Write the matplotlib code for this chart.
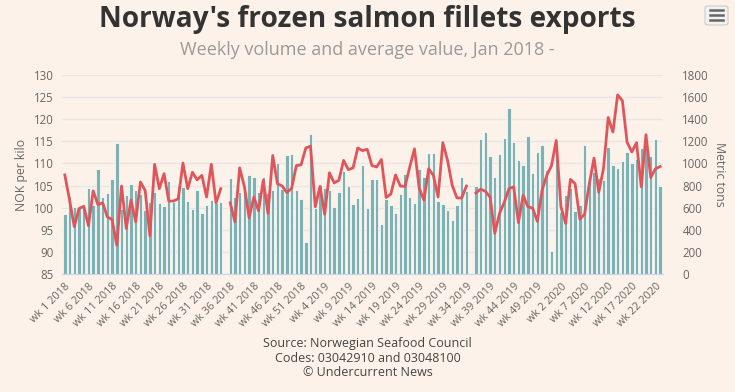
import numpy as np
import matplotlib
matplotlib.use("Agg")
import matplotlib.pyplot as plt
from matplotlib.patches import FancyBboxPatch

plt.rcParams['font.family'] = ['Open Sans', 'DejaVu Sans']

# weekly categories: wk 1 2018 .. wk 23 2020
years = [2018, 2019, 2020]
weeks_in_year = [52, 52, 23]
weeks = [f"wk {w} {y}" for y, n in zip(years, weeks_in_year) for w in range(1, n + 1)]

# metric tons (right axis), wk 35 missing both years
volume = [
    543, 705, 606, 600, 600, 777, 620, 948, 696, 732,
    861, 1182, 588, 714, 813, 759, 723, 579, 648, 741,
    642, 615, 840, 650, 795, 786, 660, 588, 759, 552,
    624, 666, 640, 651, np.nan, 867, 696, 741, 738, 894,
    876, 738, 876, 732, 760, 1002, 770, 1074, 1083, 759,
    678, 291, 1263, 597, 804, 780, 756, 606, 741, 933,
    795, 633, 687, 984, 597, 861, 861, 453, 681, 624,
    552, 723, 903, 696, 642, 948, 873, 1092, 1092, 660,
    633, 579, 489, 624, 876, 750, np.nan, 795, 1218, 1281,
    1065, 876, 1083, 1230, 1506, 1191, 1032, 984, 1245, 912,
    1101, 1164, 939, 210, 1038, 560, 714, 780, 570, 624,
    1164, 876, 921, 867, 850, 1146, 987, 960, 1020, 1101,
    1005, 1038, 1137, 1150, 1065, 1218, 795,
]

# NOK per kilo (left axis)
price = [
    107.4, 101.7, 95.7, 99.8, 100.3, 95.9, 103.8, 100.7, 101.1, 97.9,
    97.3, 91.5, 104.9, 95.3, 101.7, 96.8, 105.8, 103.9, 93.6, 109.8,
    104.3, 107.7, 101.5, 101.5, 102.0, 110.1, 104.3, 108.0, 106.3, 107.3,
    102.4, 109.8, 101.1, 104.3, np.nan, 101.1, 96.8, 109.0, 104.8, 97.7,
    102.4, 99.3, 106.2, 98.7, 111.8, 105.4, 104.9, 103.4, 104.4, 109.5,
    109.7, 113.5, 113.9, 100.2, 104.8, 98.5, 107.9, 105.6, 106.2, 110.7,
    108.6, 109.0, 113.5, 112.9, 113.2, 109.5, 109.2, 110.9, 102.3, 103.1,
    107.4, 104.9, 104.8, 109.2, 113.3, 104.4, 101.7, 108.8, 107.3, 102.4,
    114.7, 110.7, 105.0, 102.2, 102.2, 104.9, np.nan, 103.3, 104.2, 103.7,
    102.4, 94.2, 98.7, 101.2, 104.3, 104.7, 96.6, 102.8, 100.2, 99.9,
    96.9, 103.9, 107.3, 109.5, 115.2, 100.2, 96.4, 106.4, 105.4, 97.4,
    98.5, 105.4, 111.2, 103.5, 108.8, 120.4, 117.1, 125.5, 124.2, 114.8,
    112.6, 114.7, 104.7, 116.5, 106.8, 108.8, 109.3,
]

bg = '#fdf2e9'
bar_color = '#7fb1b3'
line_color = '#e0555a'
text_gray = '#666666'

fig = plt.figure(figsize=(7.35, 3.92), dpi=100)
fig.patch.set_facecolor(bg)

W, H = 735, 392
ax_bar = fig.add_axes([62 / W, (H - 274) / H, (663 - 62) / W, (274 - 75) / H])
ax_bar.set_facecolor(bg)
ax_line = ax_bar.twinx()

x = np.arange(len(weeks))
ax_bar.bar(x, volume, width=0.72, color=bar_color, edgecolor='white', linewidth=0.5, zorder=2)
ax_line.plot(x, price, color=line_color, linewidth=2, zorder=3, solid_joinstyle='round')

ax_bar.set_xlim(-0.6, len(weeks) - 0.4)
ax_bar.set_ylim(0, 1800)
ax_line.set_ylim(85, 130)

ax_bar.set_yticks(np.arange(0, 1801, 200))
ax_line.set_yticks(np.arange(85, 131, 5))
ax_bar.yaxis.tick_right()
ax_bar.yaxis.set_label_position('right')
ax_line.yaxis.tick_left()
ax_line.yaxis.set_label_position('left')

ax_bar.grid(axis='y', color='#e6e6e6', linewidth=1, zorder=0)
ax_bar.set_axisbelow(True)

tick_idx = x[::5]
ax_bar.set_xticks(tick_idx)
ax_bar.set_xticklabels([weeks[i] for i in tick_idx], rotation=45, ha='right',
                       rotation_mode='anchor', fontsize=7.8, color=text_gray)
ax_bar.tick_params(axis='x', length=0, pad=5)
ax_bar.tick_params(axis='y', length=0, labelsize=8.3, labelcolor=text_gray, pad=14)
ax_line.tick_params(axis='y', length=0, labelsize=8.3, labelcolor=text_gray, pad=6)

ax_line.set_ylabel('NOK per kilo', fontsize=8.8, color=text_gray, labelpad=4)
ax_bar.set_ylabel('Metric tons', fontsize=8.8, color=text_gray, rotation=270, labelpad=12)

for ax in (ax_bar, ax_line):
    for side in ('top', 'left', 'right'):
        ax.spines[side].set_visible(False)
    ax.spines['bottom'].set_color('#ccd6eb')

fig.text(0.5, 1 - 19 / H, "Norway's frozen salmon fillets exports", ha='center', va='center',
         fontsize=20.2, fontweight='bold', color='#333333')
fig.text(0.5, 1 - 50 / H, "Weekly volume and average value, Jan 2018 -", ha='center', va='center',
         fontsize=13, color='#9a9a9a')

for i, line in enumerate(["Source: Norwegian Seafood Council", "Codes: 03042910 and 03048100",
                          "\u00a9 Undercurrent News"]):
    fig.text(0.5, 1 - (343 + 15 * i) / H, line, ha='center', va='center', fontsize=9, color='#444444')

# menu button in the top right corner
fig.patches.append(FancyBboxPatch((705 / W, 1 - 25 / H), 23 / W, 19 / H,
                                  boxstyle='round,pad=0,rounding_size=0.005',
                                  transform=fig.transFigure, facecolor='#f2f2f2',
                                  edgecolor='#cccccc', linewidth=0.8))
for yy in (10, 15, 20):
    fig.lines.append(plt.Line2D([710 / W, 723 / W], [1 - yy / H, 1 - yy / H],
                                transform=fig.transFigure, color='#666666', linewidth=1.8))

fig.savefig('out.png', dpi=100, facecolor=bg)
